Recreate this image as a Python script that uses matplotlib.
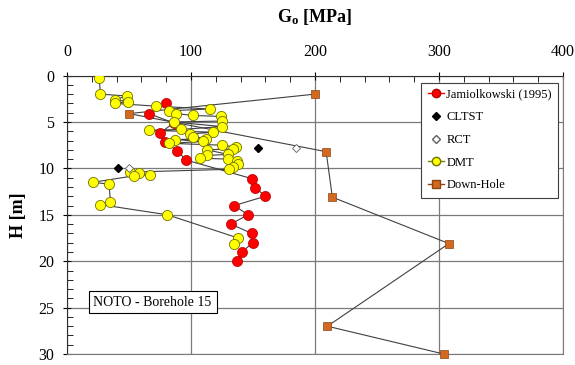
"""
 Shear modulus profile, NOTO borehole 15
"""
import matplotlib.pyplot as plt
from matplotlib.lines import Line2D
from matplotlib.ticker import MultipleLocator

plt.rcParams['font.family'] = ['Liberation Serif', 'DejaVu Serif']
plt.rcParams['mathtext.fontset'] = 'custom'
plt.rcParams['mathtext.rm'] = 'Liberation Serif'
plt.rcParams['mathtext.bf'] = 'Liberation Serif:bold'

# Jamiolkowski (1995)
jam_g = [80, 66, 86, 75, 79, 89, 96, 149, 152, 160, 135, 146, 132, 149, 150, 141, 137]
jam_h = [3.0, 4.1, 5.1, 6.2, 7.2, 8.1, 9.1, 11.1, 12.1, 13.0, 14.0, 15.0, 16.0, 17.0, 18.0, 19.0, 20.0]

# CLTST
cltst_g = [154, 41]
cltst_h = [7.8, 10.0]

# RCT
rct_g = [185, 50]
rct_h = [7.8, 10.0]

# DMT
dmt_g = [26, 27, 48, 39, 49, 39, 72, 115, 82, 88, 102, 124, 125, 86, 125, 92, 66,
         118, 99, 102, 112, 87, 110, 82, 125, 136, 134, 113, 130, 113, 107, 130,
         137, 138, 134, 131, 51, 58, 67, 54, 21, 34, 35, 27, 81, 138, 135]
dmt_h = [0.3, 2.0, 2.2, 2.6, 2.8, 3.0, 3.3, 3.6, 3.8, 4.1, 4.3, 4.4, 4.9, 5.0, 5.5,
         5.8, 5.9, 6.1, 6.3, 6.6, 6.8, 6.9, 7.1, 7.3, 7.5, 7.7, 7.9, 8.0, 8.5, 8.6,
         8.9, 9.0, 9.2, 9.5, 9.8, 10.1, 10.4, 10.5, 10.7, 10.8, 11.5, 11.7, 13.6,
         13.9, 15.0, 17.5, 18.1]

# Down-Hole
dh_g = [200, 50, 209, 214, 308, 210, 304]
dh_h = [2.0, 4.1, 8.2, 13.1, 18.1, 27.0, 30.0]

fig = plt.figure(figsize=(5.75, 3.65), dpi=100)
ax = fig.add_axes([0.1165, 0.03, 0.8626, 0.763])

line_col = '#404040'
ax.plot(dh_g, dh_h, '-', color=line_col, lw=0.8, zorder=3)
ax.plot(dmt_g, dmt_h, '-', color=line_col, lw=0.8, zorder=3)
ax.plot(jam_g, jam_h, '-', color=line_col, lw=0.8, zorder=3)

ax.plot(dh_g, dh_h, 's', ms=6, mfc='#D2691E', mec='#8B4513', mew=0.5, zorder=4,
        clip_on=False)
ax.plot(jam_g, jam_h, 'o', ms=7.3, mfc='#FF0000', mec='#B00000', mew=0.5, zorder=4)
ax.plot(dmt_g, dmt_h, 'o', ms=7.3, mfc='#FFFF00', mec='#707000', mew=0.6, zorder=5)
ax.plot(cltst_g, cltst_h, 'D', ms=4.5, mfc='black', mec='black', zorder=6)
ax.plot(rct_g, rct_h, 'D', ms=4.5, mfc='white', mec='#606060', mew=0.6, zorder=6)

ax.set_xlim(0, 400)
ax.set_ylim(30, 0)
ax.xaxis.set_major_locator(MultipleLocator(100))
ax.xaxis.set_minor_locator(MultipleLocator(20))
ax.yaxis.set_major_locator(MultipleLocator(5))
ax.yaxis.set_minor_locator(MultipleLocator(1))
ax.xaxis.tick_top()
ax.xaxis.set_label_position('top')
ax.tick_params(which='major', direction='inout', length=6, width=0.8, labelsize=11.5,
               top=True, bottom=False, right=False)
ax.tick_params(which='minor', direction='in', length=4, width=0.6,
               top=True, bottom=False, right=False)
ax.tick_params(axis='x', pad=8)
ax.tick_params(axis='y', pad=6)
ax.grid(True, which='major', color='#7a7a7a', lw=0.9)
ax.set_axisbelow(True)
for side in ['right', 'bottom']:
    ax.spines[side].set_color('#7a7a7a')
for side in ['left', 'top']:
    ax.spines[side].set_color('#303030')

ax.set_xlabel(r'$\mathbf{G_o}$ [MPa]', fontsize=13, fontweight='bold', labelpad=16)
ax.set_ylabel('H [m]', fontsize=13, fontweight='bold', labelpad=8)

ax.text(69, 24.4, 'NOTO - Borehole 15', fontsize=10, ha='center', va='center',
        bbox=dict(boxstyle='square,pad=0.35', fc='white', ec='black', lw=0.8))

handles = [
    Line2D([], [], color='red', lw=1, marker='o', ms=6, mfc='red', mec='#B00000'),
    Line2D([], [], ls='none', marker='D', ms=4, mfc='black', mec='black'),
    Line2D([], [], ls='none', marker='D', ms=4, mfc='white', mec='#606060'),
    Line2D([], [], color='#808000', lw=1, marker='o', ms=6, mfc='yellow', mec='#707000'),
    Line2D([], [], color='#8B4513', lw=1, marker='s', ms=5.5, mfc='#D2691E', mec='#8B4513'),
]
labels = ['Jamiolkowski (1995)', 'CLTST', 'RCT', 'DMT', 'Down-Hole']
leg = ax.legend(handles, labels, loc='upper right', bbox_to_anchor=(0.99, 0.975),
                fontsize=9, fancybox=False, framealpha=1, edgecolor='#404040',
                handlelength=1.3, handletextpad=0.2, labelspacing=0.85,
                borderpad=0.5, borderaxespad=0)
leg.get_frame().set_linewidth(0.8)

fig.savefig('out.png', dpi=100)
